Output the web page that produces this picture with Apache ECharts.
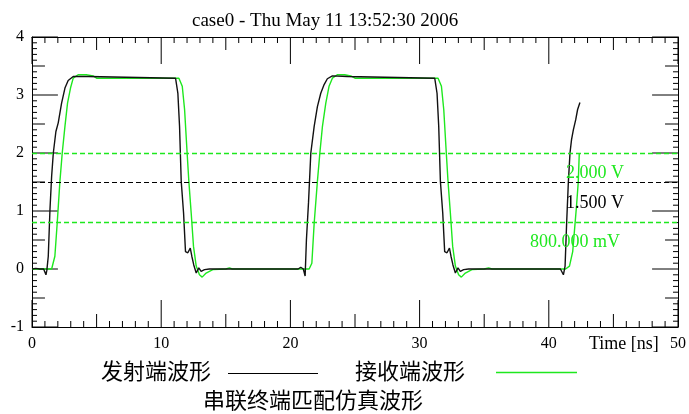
<!DOCTYPE html>
<html>
<head>
<meta charset="utf-8">
<script src="https://cdn.jsdelivr.net/npm/echarts@6/dist/echarts.min.js"></script>
<style>
html,body{margin:0;padding:0;background:#fff;}
#chart{width:689px;height:414px;}
</style>
</head>
<body>
<div id="chart"></div>
<script>
// ---- data (time in ns, voltage in V) ----
const titleText = 'case0 - Thu May 11 13:52:30 2006';
const sendName = '发射端波形';
const recvName = '接收端波形';
const captionText = '串联终端匹配仿真波形';
const xLabelName = 'Time [ns]';

const sendWave = [
  [0,0],[0.3,0.01],[0.6,0],[0.75,0.03],[0.9,0],[1.0,0],[1.08,-0.1],[1.15,-0.02],[1.26,0.22],[1.39,1.02],[1.52,1.6],[1.65,2.0],[1.85,2.37],[2.03,2.52],[2.29,2.86],[2.55,3.12],[2.8,3.25],[3.19,3.32],[4.35,3.32],[4.48,3.29],
  [11.11,3.29],[11.29,3.03],[11.42,2.46],[11.55,1.51],[11.73,0.97],[11.88,0.3],[12.06,0.28],[12.25,0.36],[12.37,0.22],[12.52,0.07],[12.71,-0.07],[12.91,0.02],[13.09,-0.04],[13.35,-0.01],[13.73,0],
  [20.6,0],[20.8,0.03],[21.0,0],[21.14,-0.12],[21.24,0.5],[21.4,1.14],[21.58,2.0],[21.84,2.46],[22.09,2.8],[22.35,3.03],[22.61,3.18],[22.86,3.28],[23.25,3.33],[24.41,3.32],[24.54,3.29],
  [31.17,3.29],[31.35,3.03],[31.48,2.46],[31.61,1.51],[31.79,0.97],[31.94,0.3],[32.12,0.28],[32.31,0.36],[32.43,0.22],[32.58,0.07],[32.77,-0.07],[32.97,0.02],[33.15,-0.04],[33.41,-0.01],[33.79,0],
  [40.5,0],[40.61,0.02],[40.9,0],[41.13,-0.1],[41.26,0.05],[41.38,0.79],[41.51,1.48],[41.64,2.0],[41.76,2.23],[41.9,2.4],[42.08,2.57],[42.23,2.75],[42.41,2.87]
];

const recvWave = [
  [0,0],[1.52,0],[1.77,0.22],[1.95,0.79],[2.16,1.51],[2.34,2.0],[2.55,2.46],[2.75,2.86],[2.98,3.12],[3.19,3.29],[3.57,3.35],[4.2,3.35],[4.73,3.33],[5.0,3.29],
  [11.37,3.29],[11.63,3.15],[11.81,2.75],[11.99,2.06],[12.14,1.51],[12.32,0.97],[12.5,0.39],[12.71,0.05],[12.96,-0.1],[13.17,-0.14],[13.48,-0.07],[13.99,-0.01],[15.0,0],[15.28,0.02],[15.5,0],
  [21.45,0],[21.66,0.1],[21.84,0.79],[22.09,1.51],[22.28,2.0],[22.48,2.46],[22.74,2.86],[22.99,3.15],[23.25,3.29],[23.63,3.35],[24.2,3.35],[24.67,3.33],[25.0,3.29],
  [31.43,3.29],[31.69,3.15],[31.87,2.75],[32.05,2.06],[32.2,1.51],[32.38,0.97],[32.56,0.39],[32.77,0.05],[33.02,-0.1],[33.23,-0.14],[33.54,-0.07],[34.05,-0.01],[35.0,0],[35.34,0.02],[35.6,0],
  [41.3,0],[41.6,0.05],[41.85,0.3],[42.0,0.7],[42.15,1.1],[42.28,1.5],[42.36,2.0]
];

const greenLevels = [2.0, 0.8];
const blackLevels = [1.5];
const levelLabels = ['2.000 V', '1.500 V', '800.000 mV'];

const xMin = 0, xMax = 50, yMin = -1, yMax = 4;
const xLabelStep = 10, yLabelStep = 1;

// tick positions along the frame (minor every 1 ns / 0.1 V)
const xTickValues = [];
for (let i = 0; i <= 50; i++) xTickValues.push(i);
const yTickValues = [];
for (let i = 0; i <= 50; i++) yTickValues.push(+(yMin + i * 0.1).toFixed(1));

// ---- layout ----
const W = 689, H = 414;
const G = {left: 32, right: 9, top: 37, bottom: 87};
const pxPerX = (W - G.left - G.right) / (xMax - xMin);
const pxPerY = (H - G.top - G.bottom) / (yMax - yMin);

const GREEN = '#1ee81e';
const SERIF = '"Liberation Serif","DejaVu Serif",serif';
const CJK = '"Noto Sans CJK SC","Noto Sans",sans-serif';

function isMult(v, step) { return Math.abs(v / step - Math.round(v / step)) < 1e-6; }

// tick segments in data units (tick length given in pixels, converted by the axis scale)
const tickSegs = [];
xTickValues.forEach(v => {
  const len = isMult(v, 10) ? 27 : (isMult(v, 5) ? 13 : 6);
  const d = len / pxPerY;
  tickSegs.push([v, yMin], [v, yMin + d], [v, '-']);
  tickSegs.push([v, yMax], [v, yMax - d], [v, '-']);
});
yTickValues.forEach(v => {
  const len = isMult(v, 1) ? 26 : (isMult(v, 0.5) ? 13 : 5);
  const d = len / pxPerX;
  tickSegs.push([xMin, v], [xMin + d, v], ['-', v]);
  tickSegs.push([xMax, v], [xMax - d, v], ['-', v]);
});

function axisBase(min, max, interval, pos, labels, margin) {
  return {
    type: 'value', position: pos, min: min, max: max, interval: interval,
    axisLine: {show: true, onZero: false, lineStyle: {color: '#000', width: 1}},
    axisTick: {show: false},
    splitLine: {show: false},
    axisLabel: labels ? {show: true, margin: margin, color: '#000', fontFamily: SERIF, fontSize: 16} : {show: false}
  };
}

const legendEls = [
  {type: 'text', left: 566, top: 164, z: 10, style: {text: levelLabels[0], fill: GREEN, font: '18px ' + SERIF}},
  {type: 'text', left: 566, top: 194, z: 10, style: {text: levelLabels[1], fill: '#000', font: '18px ' + SERIF}},
  {type: 'text', left: 530, top: 233, z: 10, style: {text: levelLabels[2], fill: GREEN, font: '18px ' + SERIF}},
  {type: 'text', left: 589, top: 335, z: 10, style: {text: xLabelName, fill: '#000', font: '18px ' + SERIF}},
  {type: 'text', left: 101, top: 360, style: {text: sendName, fill: '#000', font: '22px ' + CJK}},
  {type: 'line', shape: {x1: 228, y1: 373.5, x2: 318, y2: 373.5}, style: {stroke: '#000', lineWidth: 1}},
  {type: 'text', left: 355, top: 360, style: {text: recvName, fill: '#000', font: '22px ' + CJK}},
  {type: 'line', shape: {x1: 496, y1: 372.5, x2: 577, y2: 372.5}, style: {stroke: GREEN, lineWidth: 1.4}},
  {type: 'text', left: 203, top: 389, style: {text: captionText, fill: '#000', font: '22px ' + CJK}}
];

const chart = echarts.init(document.getElementById('chart'));
chart.setOption({
  animation: false,
  title: {
    text: titleText, left: 192, top: 12, padding: 0,
    textStyle: {fontFamily: SERIF, fontSize: 19, fontWeight: 'normal', color: '#000'}
  },
  grid: G,
  xAxis: [
    axisBase(xMin, xMax, xLabelStep, 'bottom', true, 9),
    axisBase(xMin, xMax, xLabelStep, 'top', false, 0)
  ],
  yAxis: [
    axisBase(yMin, yMax, yLabelStep, 'left', true, 8),
    axisBase(yMin, yMax, yLabelStep, 'right', false, 0)
  ],
  series: [
    {
      name: 'ticks', type: 'line', xAxisIndex: 0, yAxisIndex: 0,
      data: tickSegs, showSymbol: false, symbol: 'none', clip: false,
      connectNulls: false, silent: true,
      lineStyle: {color: '#000', width: 1}
    },
    {
      name: recvName, type: 'line', xAxisIndex: 0, yAxisIndex: 0,
      data: recvWave, showSymbol: false, symbol: 'none',
      lineStyle: {color: GREEN, width: 1.4},
      markLine: {
        silent: true, symbol: 'none', label: {show: false},
        data: greenLevels.map(v => ({yAxis: v, lineStyle: {color: GREEN, type: [5, 3], width: 1.3}}))
      }
    },
    {
      name: sendName, type: 'line', xAxisIndex: 0, yAxisIndex: 0,
      data: sendWave, showSymbol: false, symbol: 'none',
      lineStyle: {color: '#111', width: 1.4},
      markLine: {
        silent: true, symbol: 'none', label: {show: false},
        data: blackLevels.map(v => ({yAxis: v, lineStyle: {color: '#000', type: [5, 3], width: 1.2}}))
      }
    }
  ],
  graphic: legendEls
});
</script>
</body>
</html>
